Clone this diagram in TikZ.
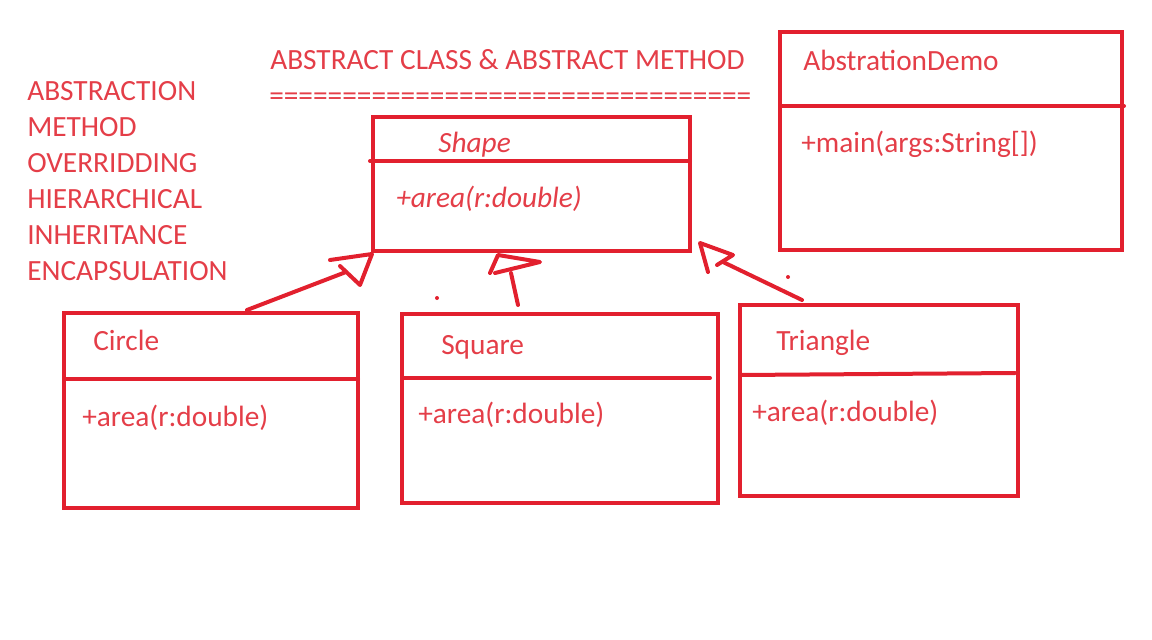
\documentclass[tikz,border=0pt]{standalone}
\usepackage{fontspec}
\setmainfont{Carlito}
\usetikzlibrary{fit}
\definecolor{umlred}{RGB}{226,32,46}
\definecolor{inkred}{RGB}{228,62,72}
\tikzset{
  umlbox/.style={draw=umlred, line width=3pt, inner sep=0pt},
  umlline/.style={draw=umlred, line width=3pt, line cap=round, line join=round},
  inktext/.style={text=inkred, inner sep=0pt, anchor=base west, font=\fontsize{22}{26.9}\selectfont}
}

\begin{document}
\begin{tikzpicture}[x=0.75pt, y=-0.75pt]
  \useasboundingbox (0,0) rectangle (1152,639);

  %%%%% HEADINGS %%%%%
  \node[inktext, align=left] (notes) at (27,280)
    {ABSTRACTION\\METHOD\\OVERRIDDING\\HIERARCHICAL\\INHERITANCE\\ENCAPSULATION};
  \node[inktext] (title) at (270,69) {ABSTRACT CLASS \& ABSTRACT METHOD};
  \node[inktext] (rule) at (269,105) {=================================};

  %%%%% CLASSES %%%%%
  \node[umlbox, fit={(373,117) (690,251)}] (shape) {};
  \draw[umlline] (370,161) -- (690,161);
  \node[inktext, font=\fontsize{22}{26.9}\selectfont\itshape] (shapeName) at (438,152) {Shape};
  \node[inktext, font=\fontsize{22}{26.9}\selectfont\itshape] (shapeOp) at (396,207) {+area(r:double)};

  \node[umlbox, fit={(780,32) (1122,250)}] (demo) {};
  \draw[umlline] (780,106) -- (1124,106);
  \node[inktext] (demoName) at (803,70) {AbstrationDemo};
  \node[inktext] (demoOp) at (801,152) {+main(args:String[])};

  \node[umlbox, fit={(64,313) (358,508)}] (circle) {};
  \draw[umlline] (64,379) -- (358,379);
  \node[inktext] (circleName) at (93,350) {Circle};
  \node[inktext] (circleOp) at (82,426) {+area(r:double)};

  \node[umlbox, fit={(402,314) (718,503)}] (square) {};
  \draw[umlline] (402,378) -- (710,378);
  \node[inktext] (squareName) at (441,354) {Square};
  \node[inktext] (squareOp) at (418,423) {+area(r:double)};

  \node[umlbox, fit={(740,305) (1018,496)}] (triangle) {};
  \draw[umlline] (740,375) -- (1015,373);
  \node[inktext] (triangleName) at (776,350) {Triangle};
  \node[inktext] (triangleOp) at (752,421) {+area(r:double)};

  %%%%% INHERITANCE %%%%%
  \coordinate (circleTail) at (247,310);
  \coordinate (circleHead) at (346,272);
  \coordinate (circleTip) at (372,254);
  \draw[umlline] (circleTail) -- (circleHead);
  \draw[umlline] (330,260) -- (circleTip) -- (360,285) -- (340,266);

  \coordinate (squareTail) at (518,305);
  \coordinate (squareHead) at (511,273);
  \coordinate (squareTip) at (498,255);
  \draw[umlline] (squareTail) -- (squareHead);
  \draw[umlline] (490,273) -- (squareTip) -- (540,262) -- (495,273);

  \coordinate (triangleTail) at (802,300);
  \coordinate (triangleHead) at (723,262);
  \coordinate (triangleTip) at (700,243);
  \draw[umlline] (triangleTail) -- (triangleHead);
  \draw[umlline] (708,272) -- (triangleTip) -- (733,255) -- (717,265);

  \fill[umlred] (437,298) circle (2);
  \fill[umlred] (788,277) circle (2);
\end{tikzpicture}
\end{document}
